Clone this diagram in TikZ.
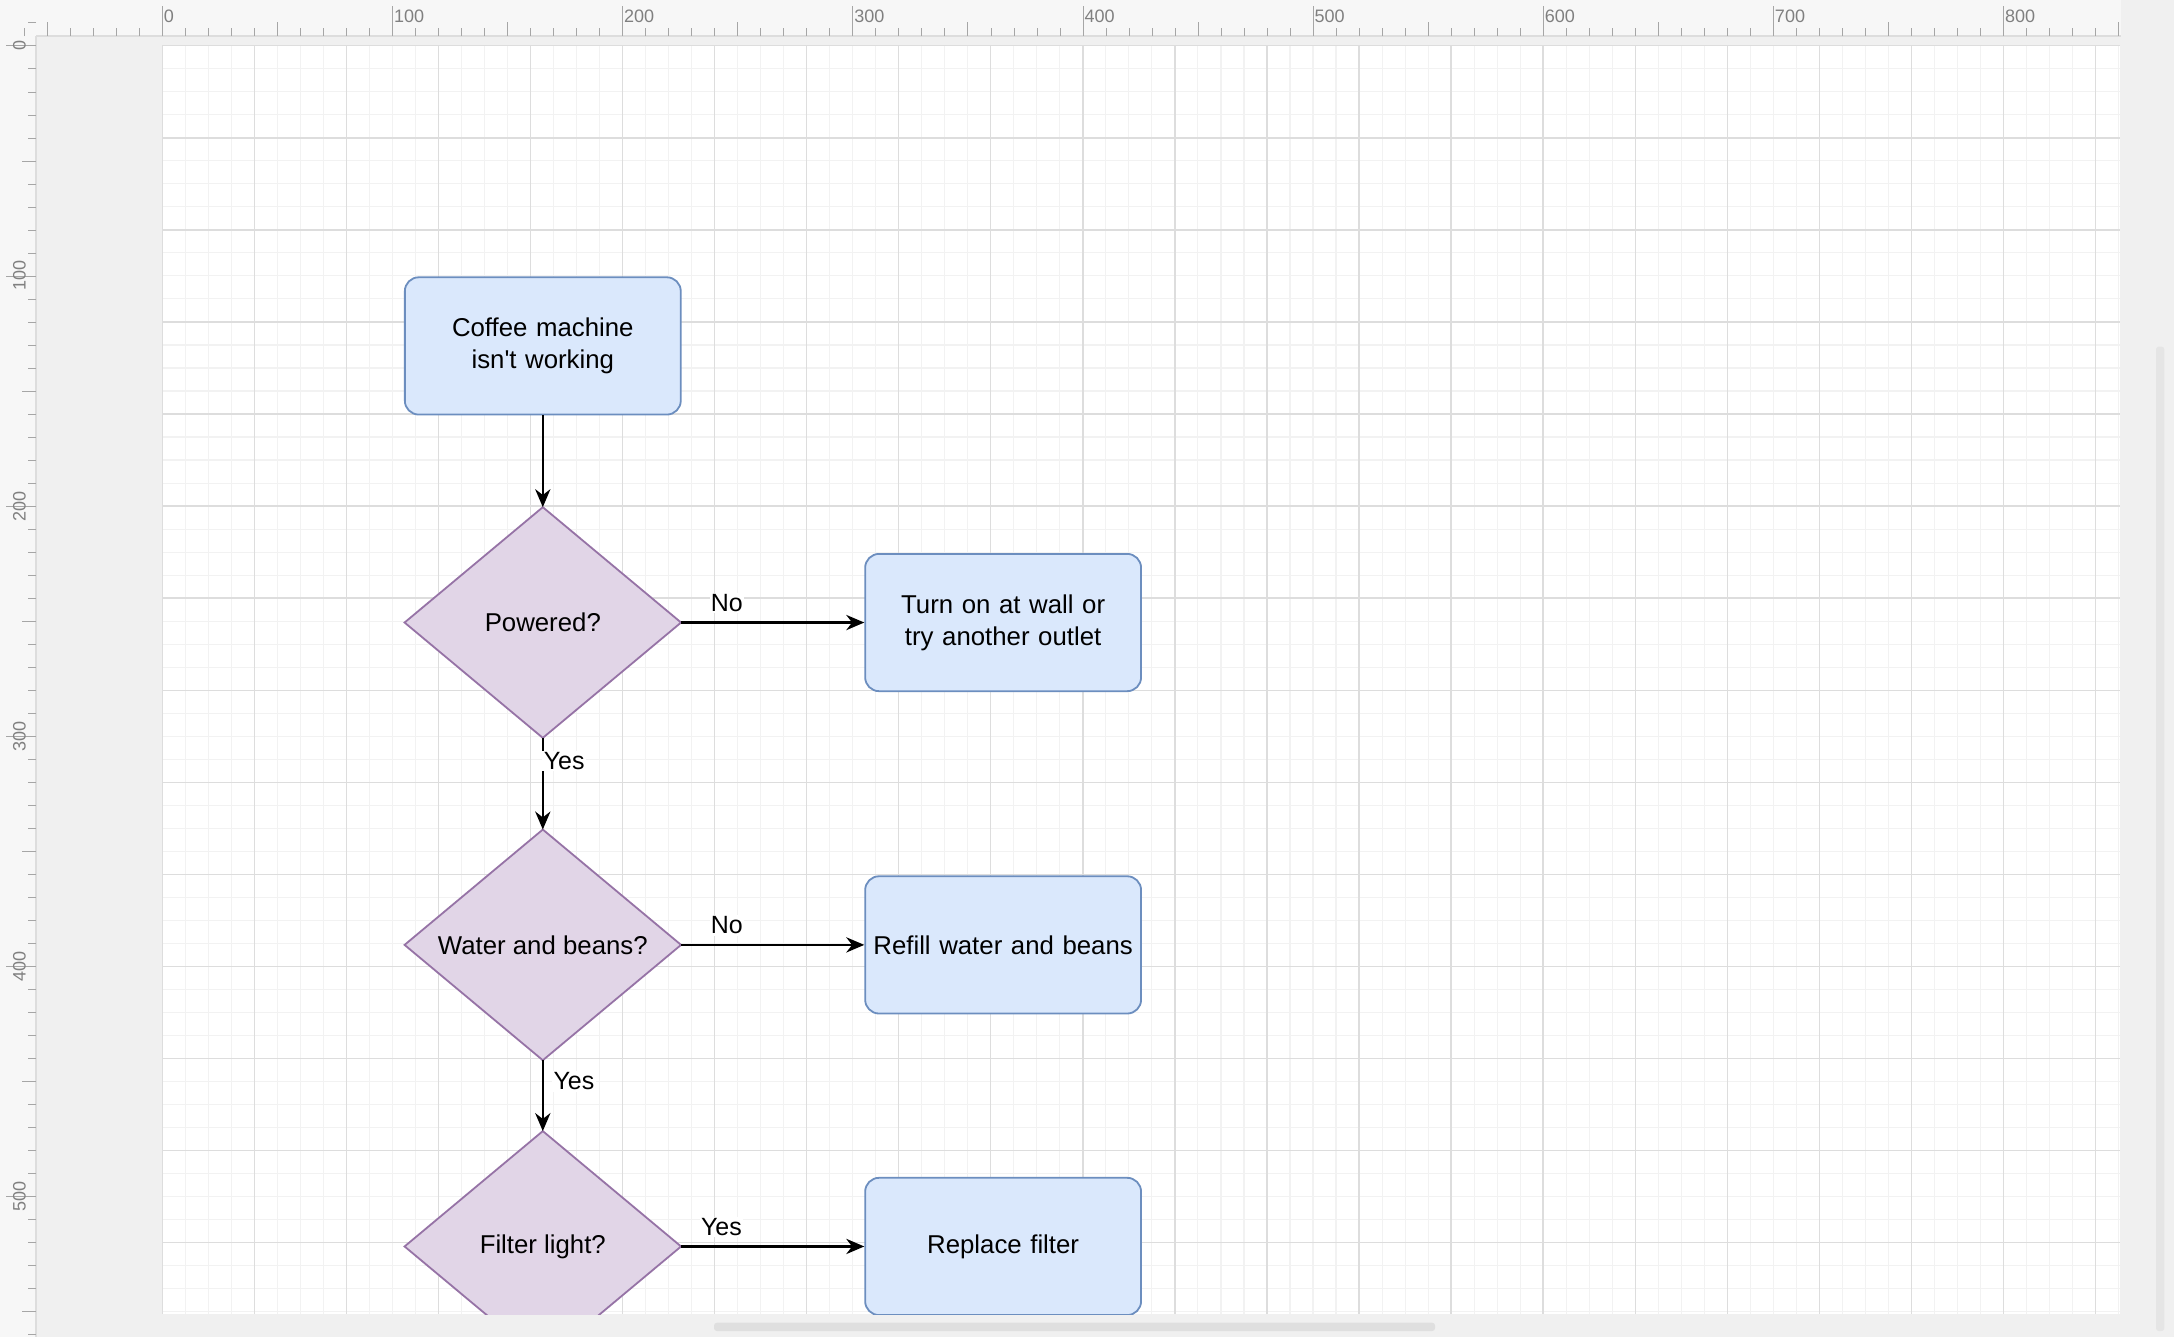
\documentclass[tikz,border=0pt]{standalone}
\usepackage{fontspec}
\setmainfont[Ligatures=NoCommon]{Liberation Sans}
\usetikzlibrary{arrows.meta}
\definecolor{bfill}{HTML}{DAE8FC}\definecolor{bline}{HTML}{6C8EBF}
\definecolor{pfill}{HTML}{E1D5E7}\definecolor{pline}{HTML}{9673A6}
\definecolor{gmin}{HTML}{F2F2F2}\definecolor{gmaj}{HTML}{DDDDDD}
\definecolor{rul}{HTML}{F7F7F7}\definecolor{back}{HTML}{F0F0F0}
\begin{document}
\begin{tikzpicture}[x=1pt,y=-1pt,
  box/.style={draw=bline,fill=bfill,line width=1.3pt,rounded corners=10pt,minimum width=199pt,minimum height=99pt,align=center,font=\fontsize{18.6}{23}\selectfont,text width=197pt,inner xsep=1pt},
  dia/.style={minimum width=199pt,minimum height=166pt,inner sep=0pt},
  dshape/.style={draw=pline,fill=pfill,line width=1.3pt},
  dtext/.style={font=\fontsize{18.6}{23}\selectfont},
  arr/.style={draw,line width=1.5pt,-{Stealth[length=13pt,width=11pt]}},
  lab/.style={font=\fontsize{18}{22}\selectfont,fill=white,inner sep=1pt}]
\useasboundingbox (0,0) rectangle (1568,964);
\fill[back] (0,0) rectangle (1568,964);
% page
\fill[white] (117,33) rectangle (1529,948);
\begin{scope}
\clip (117,33) rectangle (1529,948);
\foreach \i in {0,...,85}{\draw[gmin,line width=0.8pt] ({117+16.6*\i},33) -- ({117+16.6*\i},948);}
\foreach \i in {0,...,56}{\draw[gmin,line width=0.8pt] (117,{33+16.6*\i}) -- (1529,{33+16.6*\i});}
\foreach \i in {0,...,21}{\draw[gmaj,line width=1pt] ({117+66.4*\i},33) -- ({117+66.4*\i},948);}
\foreach \i in {0,...,14}{\draw[gmaj,line width=1pt] (117,{33+66.4*\i}) -- (1529,{33+66.4*\i});}
% diagram
\node[box] (start) at (391.5,249.5) {Coffee machine isn\textquotesingle t working};
\node[dia] (pow) at (391.5,449) {};
\node[dia] (wat) at (391.5,681.5) {};
\node[dia] (fil) at (391.5,899) {};
\foreach \d in {pow,wat,fil}{\draw[dshape] (\d.north) -- (\d.east) -- (\d.south) -- (\d.west) -- cycle;}
\node[dtext] at (pow) {Powered?};
\node[dtext] at (wat) {Water and beans?};
\node[dtext] at (fil) {Filter light?};
\node[box] (turn) at (723.5,449) {Turn on at wall or try another outlet};
\node[box] (refill) at (723.5,681.5) {Refill water and beans};
\node[box] (repl) at (723.5,899) {Replace filter};
\draw[arr] (start) -- (pow.north);
\draw[arr] (pow.east) -- (turn.west) node[lab,pos=0.25,above=6pt] {No};
\draw[arr] (pow.south) -- (wat.north) node[lab,pos=0.25,right=-1pt] {Yes};
\draw[arr] (wat.east) -- (refill.west) node[lab,pos=0.25,above=6pt] {No};
\draw[arr] (wat.south) -- (fil.north) node[lab,pos=0.3,right=6pt] {Yes};
\draw[arr] (fil.east) -- (repl.west) node[lab,pos=0.22,above=6pt] {Yes};
\end{scope}
% rulers
\fill[rul] (0,0) rectangle (1530,26);
\fill[rul] (0,0) rectangle (26,964);
\draw[gmaj,line width=1pt] (26,26) -- (1530,26);
\draw[gmaj,line width=1pt] (26,26) -- (26,964);
\foreach \i in {-6,...,85}{
  \pgfmathsetmacro\xx{117+16.6*\i}
  \pgfmathparse{int(mod(\i+100,10))}\let\m\pgfmathresult
  \ifnum\m=0 \draw[gray!70] (\xx,26) -- (\xx,4);
  \else\ifnum\m=5 \draw[gray!70] (\xx,26) -- (\xx,16);
  \else \draw[gray!70] (\xx,26) -- (\xx,20);\fi\fi}
\foreach \i in {-1,...,56}{
  \pgfmathsetmacro\yy{33+16.6*\i}
  \pgfmathparse{int(mod(\i+100,10))}\let\m\pgfmathresult
  \ifnum\m=0 \draw[gray!70] (26,\yy) -- (4,\yy);
  \else\ifnum\m=5 \draw[gray!70] (26,\yy) -- (16,\yy);
  \else \draw[gray!70] (26,\yy) -- (20,\yy);\fi\fi}
\foreach \v [count=\k from 0] in {0,100,200,300,400,500,600,700,800}{
  \node[anchor=west,inner sep=0pt,text=gray,font=\fontsize{13}{13}\selectfont] at ({117+166*\k+1},12) {\v};}
\foreach \v [count=\k from 0] in {0,100,200,300,400,500}{
  \node[anchor=center,rotate=90,inner sep=0pt,text=gray,font=\fontsize{13}{13}\selectfont] at (14,{33+166*\k}) {\v};}
% scrollbars
\fill[gray!25,rounded corners=2pt] (515,954) rectangle (1035,960);
\fill[gray!20,rounded corners=2pt] (1555,250) rectangle (1561,960);
\end{tikzpicture}
\end{document}
